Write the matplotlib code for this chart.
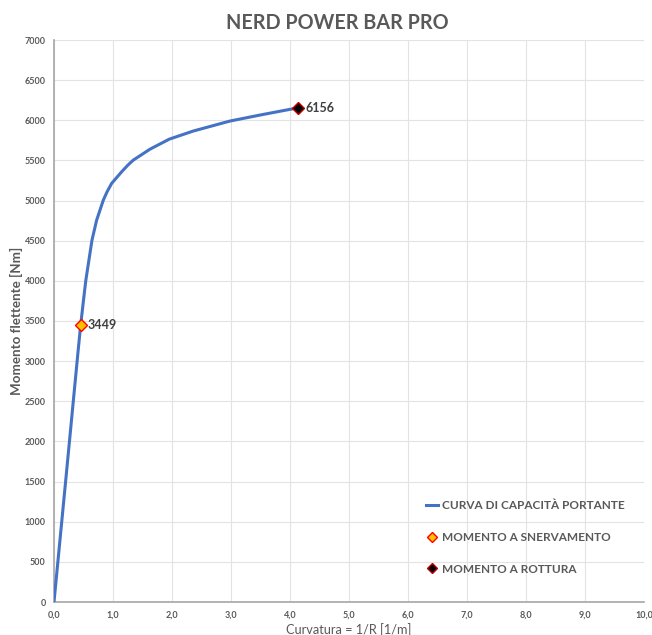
import numpy as np
import matplotlib.pyplot as plt
from matplotlib.ticker import FuncFormatter

# capacity curve
curv = [0.0, 0.20, 0.41, 0.452, 0.50, 0.54, 0.644, 0.723, 0.836, 0.90, 0.977,
        1.147, 1.25, 1.344, 1.627, 1.954, 2.36, 2.98, 3.49, 4.14]
mom = [0, 1525, 3138, 3449, 3760, 4010, 4508, 4757, 5006, 5110, 5214,
       5359, 5440, 5504, 5640, 5765, 5866, 5990, 6065, 6156]

yield_x, yield_y = [0.452], [3449]
rupt_x, rupt_y = [4.14], [6156]

xticks = np.arange(0, 11, 1)
yticks = np.arange(0, 7001, 500)

grey = '#595959'
plt.rcParams['font.family'] = ['Lato', 'DejaVu Sans']

fig = plt.figure(figsize=(6.52, 6.35), dpi=100)
ax = fig.add_axes([54/652, 33/635, 590/652, 562/635])

ax.plot(curv, mom, color='#4472C4', lw=2.2, label='CURVA DI CAPACITÀ PORTANTE',
        zorder=3, solid_joinstyle='round')
ax.plot(yield_x, yield_y, 'D', ms=6, mfc='#FFC000', mec='#FF0000', mew=1,
        ls='none', label='MOMENTO A SNERVAMENTO', zorder=4)
ax.plot(rupt_x, rupt_y, 'D', ms=6, mfc='black', mec='#C00000', mew=1,
        ls='none', label='MOMENTO A ROTTURA', zorder=4)

ax.annotate(f'{yield_y[0]}', (yield_x[0], yield_y[0]), xytext=(5, 0),
            textcoords='offset points', va='center', fontsize=9,
            fontweight='bold', color='#404040')
ax.annotate(f'{rupt_y[0]}', (rupt_x[0], rupt_y[0]), xytext=(5, 0),
            textcoords='offset points', va='center', fontsize=9,
            fontweight='bold', color='#404040')

ax.set_xlim(0, 10)
ax.set_ylim(0, 7000)
ax.set_xticks(xticks)
ax.set_yticks(yticks)
ax.xaxis.set_major_formatter(FuncFormatter(lambda v, p: f'{v:.1f}'.replace('.', ',')))
ax.tick_params(labelsize=6.5, colors=grey, length=0, pad=6)
for t in ax.get_xticklabels() + ax.get_yticklabels():
    t.set_fontweight('bold')
ax.grid(True, color='#E3E3E3', lw=0.8)
ax.set_axisbelow(True)
for s in ['top', 'right']:
    ax.spines[s].set_visible(False)
for s in ['left', 'bottom']:
    ax.spines[s].set_color('#A6A6A6')
    ax.spines[s].set_linewidth(1.2)

ax.set_xlabel('Curvatura = 1/R [1/m]', fontsize=9.2, color=grey, labelpad=3)
ax.set_ylabel('Momento flettente [Nm]', fontsize=9.6, fontweight='bold', color=grey)
ax.yaxis.set_label_coords(-0.063, 0.5)
ax.yaxis.label.set_va('center')
fig.text(0.517, 0.963, 'NERD POWER BAR PRO', fontsize=14.2, fontweight='bold',
         color=grey, ha='center', va='center')

leg = ax.legend(loc='lower right', bbox_to_anchor=(0.985, 0.03), frameon=False,
                labelspacing=1.75, handlelength=1.0, handletextpad=0.3,
                markerscale=0.8, prop={'weight': 'bold', 'size': 8.5})
for t in leg.get_texts():
    t.set_color(grey)

fig.savefig('out.png', dpi=100)
